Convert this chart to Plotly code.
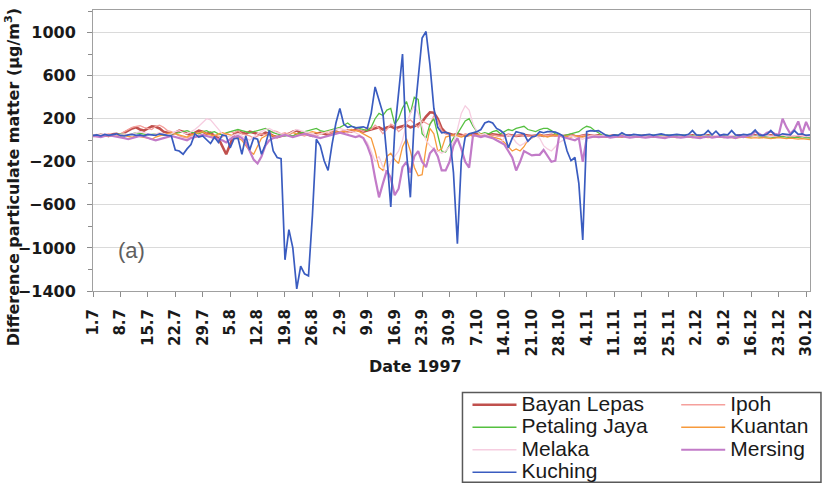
import plotly.graph_objects as go
import pandas as pd

# ---------------- data (daily, 1 Jul – 31 Dec 1997) ----------------
dates = pd.date_range("1997-07-01", "1997-12-31", freq="D")

bayan_lepas = [
    40, 45, 50, 45, 40, 55, 60, 50, 70, 90,
    110, 120, 100, 90, 110, 130, 125, 110, 80, 70,
    60, 70, 90, 80, 60, 50, 70, 90, 80, 60,
    70, 40, 20, -60, -130, -40, 60, 80, 70, 60,
    80, 70, 60, 50, 70, 60, 40, 30, 40, 50,
    60, 80, 90, 70, 60, 50, 40, 60, 70, 60,
    50, 70, 80, 70, 80, 90, 80, 100, 90, 80,
    90, 100, 110, 120, 100, 120, 130, 110, 120, 130,
    140, 120, 130, 150, 170, 220, 260, 255, 200, 110,
    70, 60, 50, 60, 50, 40, 50, 60, 55, 50,
    45, 50, 55, 50, 45, 40, 50, 45, 40, 45,
    50, 45, 40, 45, 50, 40, 45, 50, 45, 40,
    40, 45, 50, 40, 35, 45, 50, 45, 40, 45,
    40, 35, 40, 45, 40, 35, 40, 45, 40, 35,
    40, 45, 40, 35, 40, 45, 40, 35, 40, 45,
    40, 35, 40, 45, 40, 35, 40, 45, 40, 35,
    40, 45, 40, 35, 40, 45, 40, 35, 40, 45,
    40, 35, 40, 45, 40, 35, 40, 45, 40, 35,
    40, 45, 40, 35,
]

ipoh = [
    50, 55, 45, 50, 60, 55, 50, 60, 80, 100,
    120, 130, 135, 120, 110, 100, 130, 140, 120, 90,
    80, 60, 40, 30, 20, 40, 60, 70, 50, 40,
    30, 50, 40, 30, 60, 80, 70, 90, 60, 50,
    40, 20, 40, 60, 50, 70, 90, 80, 60, 70,
    50, 40, 60, 50, 40, 60, 50, 40, 60, 80,
    60, 70, 60, 80, 90, 70, 80, 90, 100, 80,
    120, 100, 140, 110, 60, 100, 150, 130, 80, 110,
    170, 190, 150, 120, 180, 160, 140, 230, 180, 90,
    60, 50, 40, 50, 40, 60, 50, 40, 45, 50,
    45, 40, 50, 45, 35, 40, 50, 45, 40, 50,
    45, 40, 35, 45, 50, 40, 45, 50, 40, 35,
    40, 45, 50, 40, 35, 45, 50, 40, 45, 40,
    35, 40, 45, 40, 35, 40, 45, 40, 35, 40,
    45, 40, 35, 40, 45, 40, 35, 40, 45, 40,
    35, 40, 45, 40, 35, 40, 45, 40, 35, 40,
    45, 40, 35, 40, 45, 40, 35, 40, 45, 40,
    35, 40, 45, 40, 35, 40, 45, 40, 35, 40,
    45, 40, 35, 40,
]

petaling_jaya = [
    40, 45, 55, 50, 40, 45, 50, 60, 55, 50,
    60, 70, 65, 60, 50, 55, 60, 50, 45, 50,
    55, 60, 70, 80, 90, 75, 70, 60, 80, 90,
    70, 80, 60, 50, 70, 80, 90, 100, 90, 80,
    70, 80, 90, 100, 110, 90, 70, 60, 50, 40,
    50, 40, 60, 70, 80, 90, 100, 110, 90, 80,
    90, 100, 110, 120, 140, 160, 130, 120, 110, 100,
    90, 120, 200, 250, 230, 280, 295, 150, 200, 300,
    360, 250, 400, 380, 60, 20, 150, 200, 60, -100,
    -110, -40, 20, 60, 120, 180, 200, 130, 80, 60,
    70, 60, 80, 90, 60, 80, 100, 90, 110, 120,
    130, 100, 90, 80, 100, 110, 110, 90, 60, 50,
    40, 50, 60, 70, 80, 110, 130, 120, 90, 70,
    45, 50, 40, 45, 50, 55, 45, 40, 45, 50,
    45, 40, 45, 50, 45, 40, 45, 50, 45, 40,
    45, 50, 45, 40, 45, 50, 45, 40, 45, 40,
    35, 40, 45, 40, 35, 40, 35, 30, 35, 40,
    35, 30, 35, 30, 25, 30, 35, 30, 25, 30,
    25, 20, 25, 20,
]

kuantan = [
    40, 45, 50, 40, 35, 45, 50, 40, 45, 35,
    30, 40, 35, 30, 20, 10, 30, 40, 50, 60,
    70, 60, 50, 40, 30, 50, 60, 70, 80, 60,
    50, 40, 60, 70, 60, 50, 40, 20, 0, -50,
    -100, -130, -60, 20, 40, 60, 40, 30, 40, 50,
    60, 70, 60, 50, 60, 70, 80, 70, 60, 70,
    80, 90, 80, 70, 80, 90, 100, 90, 80, 60,
    40, 20, -100, -250, -280, -150, -120, -180, -215, -60,
    15, -100, -250, -330, -320, -70, 110, 60, -100, -80,
    30, 40, 50, 40, 30, 40, 50, 40, 50, 60,
    50, 40, 30, 20, 10, -20, -60, -100, -80, -100,
    -60, 0, 20, 40, 50, 40, 30, 40, 50, 40,
    40, 35, 30, 40, 35, 30, 40, 35, 30, 35,
    30, 35, 40, 35, 30, 35, 40, 35, 30, 35,
    30, 35, 40, 35, 30, 35, 30, 35, 30, 25,
    30, 35, 30, 25, 30, 35, 30, 25, 30, 35,
    30, 25, 30, 25, 20, 25, 30, 25, 20, 25,
    20, 25, 20, 15, 20, 25, 20, 15, 20, 15,
    10, 15, 10, 5,
]

melaka = [
    50, 45, 55, 60, 50, 45, 50, 55, 60, 50,
    60, 70, 80, 70, 60, 50, 60, 70, 60, 50,
    60, 80, 90, 70, 60, 80, 100, 130, 170, 200,
    190, 150, 100, 60, 40, 30, 50, 60, 40, 20,
    0, 30, 60, 80, 100, 110, 90, 70, 60, 50,
    60, 80, 100, 90, 80, 70, 60, 50, 60, 70,
    80, 90, 100, 110, 100, 90, 80, 70, 50, 20,
    -20, -100, -200, -150, -250, -300, -200, -150, -100, 0,
    150, 250, 320, 250, 120, 0, -50, -80, -100, -120,
    -100, -60, -20, 100, 250, 320, 280, 150, 80, 50,
    60, 40, 20, 0, -20, 20, 50, 30, -20, -50,
    -30, 0, 20, 40, 20, -50, -80, -100, -60, -20,
    0, 20, 40, 30, 20, 10, 30, 40, 35, 40,
    40, 45, 35, 40, 45, 50, 40, 35, 40, 45,
    40, 35, 40, 45, 40, 35, 40, 45, 40, 35,
    40, 45, 40, 35, 40, 45, 40, 35, 40, 45,
    40, 35, 40, 45, 40, 35, 40, 45, 40, 35,
    40, 45, 40, 35, 40, 45, 50, 40, 45, 40,
    45, 40, 35, 40,
]

mersing = [
    40, 35, 30, 40, 45, 40, 35, 30, 20, 10,
    20, 30, 40, 35, 20, 10, 0, 10, 20, 30,
    40, 30, 20, 10, 0, 20, 30, 40, 50, 40,
    30, 20, 10, 0, -20, 10, 30, 40, 20, -20,
    -100, -180, -215, -150, -50, 0, 20, 30, 40, 50,
    40, 30, 40, 50, 60, 50, 40, 30, 20, 30,
    40, 50, 60, 70, 60, 50, 40, 30, 40, 20,
    -50, -150, -350, -530, -400, -280, -350, -510, -450, -250,
    -200, -300, -150, -100, -200, -250, -120, -80, -150, -280,
    -280, -200, -50, 20, -80, -200, -255, 50, 40, 30,
    40, 30, 20, 0, -20, -40, -100, -160, -280, -200,
    -100, -120, -140, -135, -135, -90, -150, -200, -190, 50,
    30, 20, 10, 0, 20, -200, 20, 30, 35, 30,
    30, 35, 25, 30, 35, 40, 30, 25, 30, 35,
    30, 25, 30, 35, 30, 25, 20, 30, 35, 30,
    25, 30, 35, 30, 25, 20, 30, 35, 25, 30,
    35, 30, 25, 30, 20, 35, 30, 40, 50, 80,
    60, 40, 70, 80, 60, 50, 200, 120, 60, 100,
    175, 60, 170, 90,
]

kuching = [
    45, 50, 40, 55, 45, 50, 60, 45, 40, 50,
    55, 45, 50, 40, 55, 50, 45, 60, 50, 45,
    40, -90, -100, -130, -80, -40, 60, 30, 40, 0,
    -30, 30, -20, 50, 40, -70, 15, 20, -130, 40,
    -90, 20, 10, -130, -40, 90, -100, -160, -170, -1110,
    -830, -1000, -1380, -1170, -1240, -1260, -700, 10, -50, -190,
    -280, -40, 160, 295, 150, 120, 130, 115, 120, 125,
    110, 250, 495, 380, 250, -150, -620, 80, 450, 800,
    -100, -530, 200, 600, 950, 1010, 700, 295, 120, 70,
    75, 60, -300, -960, -190, 30, 60, 70, 80, 100,
    160, 175, 160, 110, 90, 60, -70, 20, 80, 70,
    60, -10, 30, 40, 80, 70, 80, 80, 75, 60,
    40, -100, -190, -160, -400, -925, 80, 90, 85, 90,
    70, 45, 40, 50, 45, 70, 50, 45, 55, 50,
    45, 50, 55, 45, 50, 60, 50, 45, 50, 55,
    50, 45, 55, 90, 50, 45, 55, 90, 50, 85,
    45, 55, 50, 90, 50, 45, 55, 50, 60, 95,
    50, 45, 55, 90, 50, 45, 60, 55, 50, 90,
    55, 60, 45, 50,
]

series = [
    # name, values, color, width, legend
    ("Bayan Lepas", bayan_lepas, "#c0504d", 2.6, "legend"),
    ("Ipoh", ipoh, "#f5a09c", 1.3, "legend2"),
    ("Petaling Jaya", petaling_jaya, "#55c040", 1.3, "legend"),
    ("Kuantan", kuantan, "#f79a3c", 1.3, "legend2"),
    ("Melaka", melaka, "#f6cde0", 1.3, "legend"),
    ("Mersing", mersing, "#c27bc8", 2.2, "legend2"),
    ("Kuching", kuching, "#3a5cc0", 1.7, "legend"),
]

fig = go.Figure()
for name, vals, color, width, leg in series:
    assert len(vals) == len(dates), (name, len(vals))
    fig.add_trace(go.Scatter(
        x=dates, y=vals, mode="lines",
        name="<span style='font-size:21px'>%s</span>" % name,
        line=dict(color=color, width=width), legend=leg,
    ))

tick_font_y = dict(family="DejaVu Sans", size=16, color="#1a1a1a", weight="bold")
tick_font_x = dict(family="DejaVu Sans", size=15, color="#1a1a1a", weight="bold")
legend_font = dict(family="Liberation Sans, Arial", size=15, color="#1a1a1a")

fig.update_layout(
    width=824, height=498,
    margin=dict(l=93, r=13, t=10, b=203),
    plot_bgcolor="white", paper_bgcolor="white",
    xaxis=dict(
        type="date",
        range=[dates[0], dates[-1]],
        tickmode="linear", tick0="1997-07-01", dtick=7 * 86400000,
        tickformat="%-d.%-m", tickangle=-90,
        ticks="outside", ticklen=5, tickcolor="#8c8c8c",
        showline=True, linecolor="#a0a0a0", linewidth=1, mirror=True,
        showgrid=False, tickfont=tick_font_x, ticklabelstandoff=6,
    ),
    yaxis=dict(
        range=[-1400, 1210],
        tickmode="linear", tick0=-1400, dtick=400,
        ticks="outside", ticklen=5, tickcolor="#8c8c8c",
        minor=dict(dtick=200, ticks="outside", ticklen=4, tickcolor="#8c8c8c", showgrid=False),
        showgrid=True, gridcolor="#dadada", gridwidth=1,
        showline=True, linecolor="#a0a0a0", linewidth=1, mirror=True,
        zeroline=False, tickfont=tick_font_y, ticklabelstandoff=8,
    ),
    legend=dict(
        x=0.5223, y=-0.347, xanchor="left", yanchor="top",
        bgcolor="rgba(0,0,0,0)", borderwidth=0, font=legend_font,
        itemwidth=44, tracegroupgap=0, traceorder="normal",
    ),
    legend2=dict(
        x=0.8134, y=-0.347, xanchor="left", yanchor="top",
        bgcolor="rgba(0,0,0,0)", borderwidth=0, font=legend_font,
        itemwidth=44, tracegroupgap=0, traceorder="normal",
    ),
    shapes=[dict(
        type="rect", xref="paper", yref="paper",
        x0=0.5153, x1=1.0153, y0=-0.6807, y1=-0.3614,
        line=dict(color="#595959", width=1.5), fillcolor="rgba(0,0,0,0)",
    )],
    annotations=[
        dict(text="Date 1997", xref="paper", yref="paper", x=0.45, y=-0.27,
             showarrow=False, xanchor="center", yanchor="middle",
             font=dict(family="DejaVu Sans", size=16, color="#1a1a1a", weight="bold")),
        dict(text="Difference particulate matter (µg/m<sup>3</sup>)", xref="paper", yref="paper",
             x=-0.1128, y=0.405, textangle=-90, showarrow=False,
             xanchor="center", yanchor="middle",
             font=dict(family="DejaVu Sans", size=16, color="#1a1a1a", weight="bold")),
        dict(text="(a)", xref="paper", yref="paper", x=0.0543, y=0.1439,
             showarrow=False, xanchor="center", yanchor="middle",
             font=dict(family="Liberation Sans, Arial", size=22, color="#606060")),
    ],
)

fig.write_html("out.html")
